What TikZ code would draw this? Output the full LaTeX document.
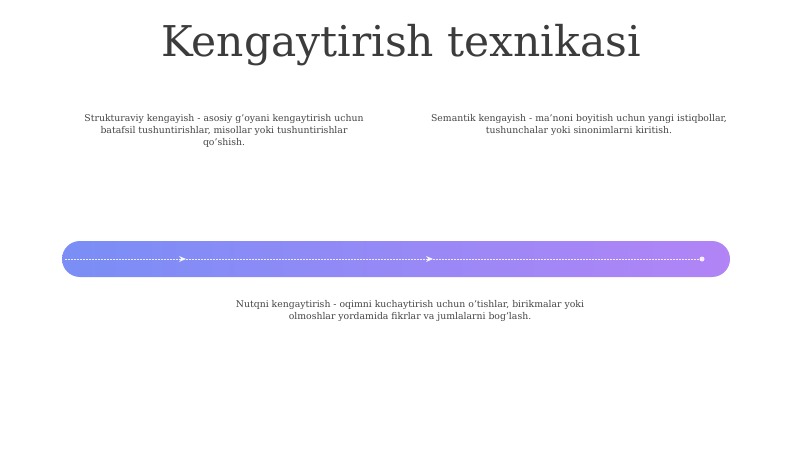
\documentclass[tikz,border=0pt]{standalone}
\usepackage{fontspec}
\setmainfont{DejaVu Serif}
\usetikzlibrary{arrows.meta}
\definecolor{txt}{RGB}{68,68,68}
\definecolor{barL}{RGB}{122,142,246}
\definecolor{barM}{RGB}{158,120,245}
\definecolor{barR}{RGB}{178,132,246}
\tikzset{
  desc/.style={text=txt, font=\fontsize{9.3}{12.3}\selectfont, align=center, inner sep=0pt},
  flow/.style={draw=white, line width=0.9pt, dash pattern=on 1.5pt off 1.5pt, opacity=0.85, -{Stealth[length=7pt,width=6pt]}},
}
\begin{document}
\begin{tikzpicture}[x=1pt,y=-1pt]
\useasboundingbox (0,0) rectangle (800,449);
\node[text={rgb,255:red,60;green,60;blue,60}, font=\fontsize{42.4}{48}\selectfont, inner sep=0pt] (title) at (401,45) {Kengaytirish texnikasi};
\node[desc] (d1) at (224,131) {Strukturaviy kengayish - asosiy g'oyani kengaytirish uchun\\batafsil tushuntirishlar, misollar yoki tushuntirishlar\\qo'shish.};
\node[desc] (d2) at (579,125) {Semantik kengayish - ma'noni boyitish uchun yangi istiqbollar,\\tushunchalar yoki sinonimlarni kiritish.};
\node[desc] (d3) at (410,311) {Nutqni kengaytirish - oqimni kuchaytirish uchun o'tishlar, birikmalar yoki\\olmoshlar yordamida fikrlar va jumlalarni bog'lash.};
\node[minimum width=668pt, minimum height=36pt, rounded corners=18pt, left color=barL, middle color=barM, right color=barR, draw=none, inner sep=0pt] (bar) at (396,259) {};
\coordinate (s) at (65,259);
\coordinate (a1) at (186,259);
\coordinate (a2) at (433,259);
\coordinate (e) at (702,259);
\draw[flow] (s) -- (a1);
\draw[flow] (a1) -- (a2);
\draw[flow, -] (a2) -- (e);
\node[circle, fill=white, opacity=0.85, inner sep=0pt, minimum size=5pt] (dot) at (e) {};
\end{tikzpicture}
\end{document}
